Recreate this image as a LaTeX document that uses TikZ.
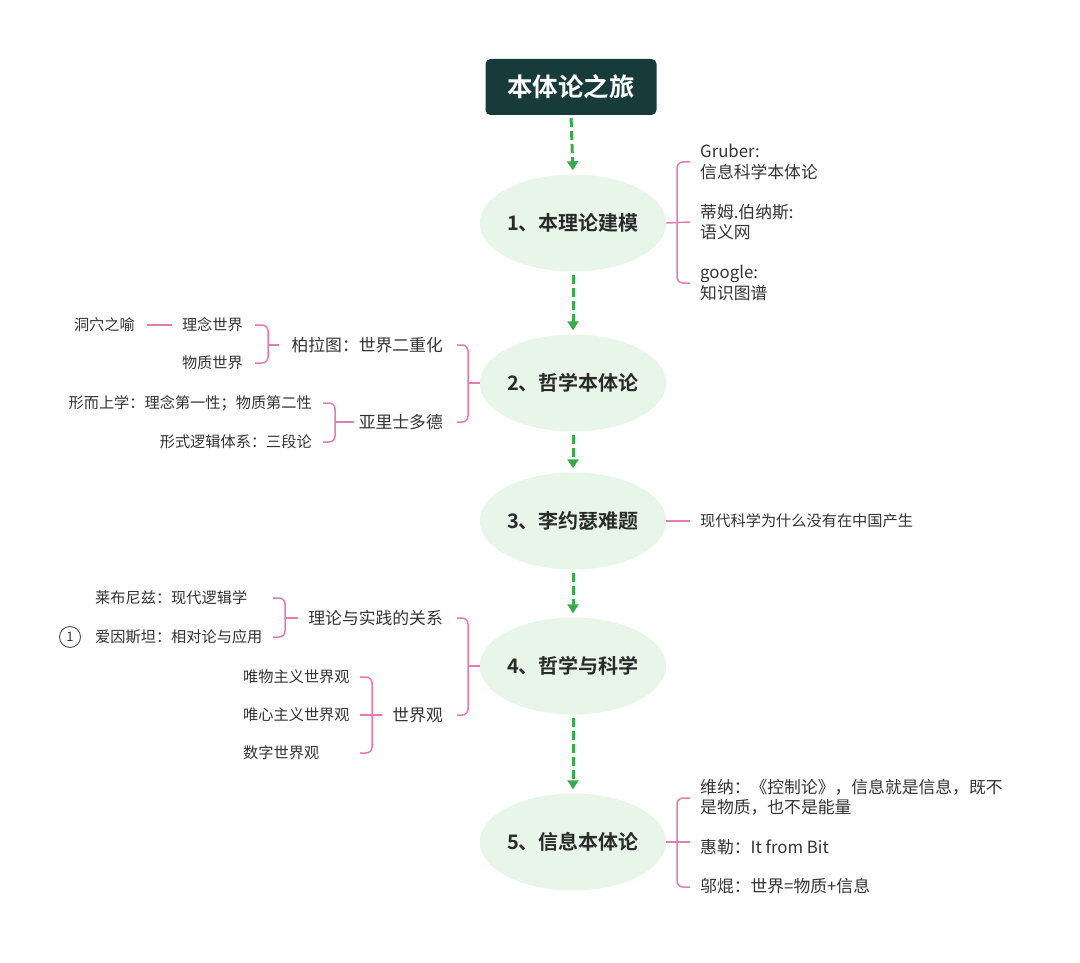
\documentclass[tikz,border=0pt]{standalone}
\usepackage{fontspec}
\setmainfont{Noto Sans CJK SC}[BoldFont={Noto Sans CJK SC Bold}]
\usetikzlibrary{arrows.meta,shapes.geometric}
\definecolor{pinkline}{HTML}{E57AB5}
\definecolor{flowgreen}{HTML}{3AAA4C}
\definecolor{titlebg}{HTML}{173B3B}
\definecolor{topicbg}{HTML}{E7F6E9}
\definecolor{textdark}{HTML}{2A2A2A}
\definecolor{textgray}{HTML}{333333}
\begin{document}
\begin{tikzpicture}[x=1pt,y=-1pt,
  titlebox/.style={fill=titlebg, rounded corners=5, minimum width=171, minimum height=56, inner sep=0, text=white, font=\fontsize{25.5}{30}\selectfont\bfseries},
  topic/.style={ellipse, fill=topicbg, minimum width=182, minimum height=97, inner sep=0, text=textdark, font=\fontsize{20}{24}\selectfont\bfseries},
  sub/.style={inner sep=0, text=textgray, align=left, font=\fontsize{16.8}{20.5}\selectfont},
  leaf/.style={inner sep=0, text=textgray, font=\fontsize{15.2}{18}\selectfont},
  br/.style={draw=pinkline, line width=1.5, rounded corners=6},
  flow/.style={draw=flowgreen, line width=3, dash pattern=on 9 off 4, -{Triangle[width=11,length=9]}, shorten <=3, shorten >=4}
]
\useasboundingbox[fill=white] (0,0) rectangle (1080,963);

% main column
\node[titlebox] (t) at (571,87) {本体论之旅};
\node[topic] (n1) at (573,223) {1、本理论建模};
\node[topic] (n2) at (573,383) {2、哲学本体论};
\node[topic] (n3) at (573,521) {3、李约瑟难题};
\node[topic] (n4) at (573,666) {4、哲学与科学};
\node[topic] (n5) at (573,842) {5、信息本体论};

\draw[flow] (t.south) -- (n1.north);
\draw[flow] (n1.south) -- (n2.north);
\draw[flow] (n2.south) -- (n3.north);
\draw[flow] (n3.south) -- (n4.north);
\draw[flow] (n4.south) -- (n5.north);

% node 1 children
\node[sub, anchor=west] (c11) at (700,162) {Gruber:\\信息科学本体论};
\node[sub, anchor=west] (c12) at (700,222) {蒂姆.伯纳斯:\\语义网};
\node[sub, anchor=west] (c13) at (700,283) {google:\\知识图谱};
\draw[br] ([xshift=-10]c11.west) -| (677,222) |- ([xshift=-10]c13.west);
\draw[br] (n1.east) -- ([xshift=-10]c12.west);

% node 2 children
\node[sub, anchor=east] (p1) at (443,345) {柏拉图：世界二重化};
\node[sub, anchor=east] (p2) at (443,422) {亚里士多德};
\draw[br] ([xshift=14]p1.east) -| (468,383) |- ([xshift=14]p2.east);
\coordinate (j2) at (468,383);
\draw[br] (j2) -- (n2.west);

\node[leaf, anchor=east] (c21) at (243,325) {理念世界};
\node[leaf, anchor=east] (c22) at (243,363) {物质世界};
\node[leaf, anchor=east] (d0) at (135,325) {洞穴之喻};
\draw[br] ([xshift=12]c21.east) -| (268,345) |- ([xshift=12]c22.east);
\coordinate (j21) at (268,345);
\draw[br] (j21) -- ([xshift=-12]p1.west);
\draw[br] ([xshift=12]d0.east) -- ([xshift=-10]c21.west);

\node[leaf, anchor=east] (c23) at (312,403) {形而上学：理念第一性；物质第二性};
\node[leaf, anchor=east] (c24) at (312,442) {形式逻辑体系：三段论};
\draw[br] ([xshift=11]c23.east) -| (335,422) |- ([xshift=11]c24.east);
\coordinate (j22) at (335,422);
\draw[br] (j22) -- ([xshift=-5]p2.west);

% node 3 child
\node[leaf, anchor=west] (t3) at (700,521) {现代科学为什么没有在中国产生};
\draw[br] (n3.east) -- ([xshift=-10]t3.west);

% node 4 children
\node[sub, anchor=east] (q1) at (443,618) {理论与实践的关系};
\node[sub, anchor=east] (q2) at (443,715) {世界观};
\draw[br] ([xshift=14]q1.east) -| (468,666) |- ([xshift=14]q2.east);
\coordinate (j4) at (468,666);
\draw[br] (j4) -- (n4.west);

\node[leaf, anchor=west] (e1) at (95,598) {莱布尼兹：现代逻辑学};
\node[leaf, anchor=west] (e2) at (95,637) {爱因斯坦：相对论与应用};
\node[circle, draw=black!70, line width=0.9, minimum size=21, inner sep=0, text=textgray, font=\fontsize{13}{13}\selectfont] (m1) at (70,637) {1};
\coordinate (a41) at (273,598);
\coordinate (a42) at (273,637);
\coordinate (j41) at (285,618);
\draw[br] (a41) -| (j41) |- (a42);
\draw[br] (j41) -- ([xshift=-10]q1.west);

\node[leaf, anchor=west] (w1) at (243,677) {唯物主义世界观};
\node[leaf, anchor=west] (w2) at (243,715) {唯心主义世界观};
\node[leaf, anchor=west] (w3) at (243,753) {数字世界观};
\coordinate (a43) at (360,677);
\coordinate (a44) at (360,753);
\coordinate (j42) at (372,715);
\draw[br] (a43) -| (j42) |- (a44);
\draw[br] (360,715) -- ([xshift=-10]q2.west);

% node 5 children
\node[sub, anchor=west] (f1) at (700,797.5) {维纳：《控制论》，信息就是信息，既不\\是物质，也不是能量};
\node[sub, anchor=west] (f2) at (700,847) {惠勒：It from Bit};
\node[sub, anchor=west] (f3) at (700,886) {邬焜：世界=物质+信息};
\coordinate (a51) at (690,798);
\coordinate (a52) at (690,887);
\coordinate (j5) at (677,842);
\draw[br] (a51) -| (j5) |- (a52);
\draw[br] (n5.east) -- (690,842);
\end{tikzpicture}
\end{document}
